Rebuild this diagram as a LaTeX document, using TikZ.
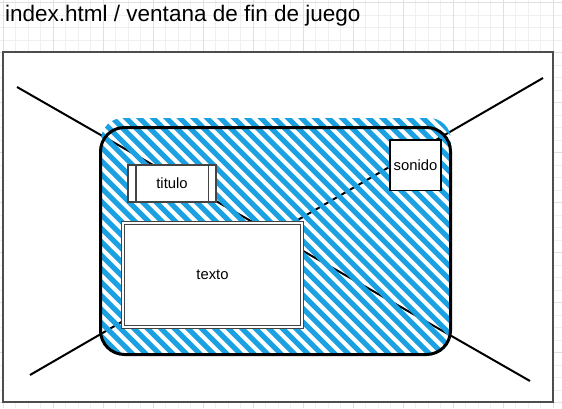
\documentclass[tikz,border=0pt]{standalone}
\usepackage{fontspec}
\setmainfont{Liberation Sans}
\definecolor{hatchblue}{HTML}{1BA1E2}
\definecolor{gridmajor}{HTML}{E0E0E0}
\definecolor{gridminor}{HTML}{F0F0F0}
\definecolor{framegray}{HTML}{4D4D4D}
\definecolor{boxgray}{HTML}{444444}
\tikzset{
  minorline/.style={draw=gridminor, line width=0.8pt},
  majorline/.style={draw=gridmajor, line width=0.8pt},
  framebox/.style={draw=framegray, fill=white, line width=1.6pt, inner sep=0pt, outer sep=0pt,
    minimum width=550pt, minimum height=350pt, anchor=north west},
  diag/.style={draw=black, line width=2pt},
  stripe/.style={draw=hatchblue, line width=5pt, line cap=round},
  screenbox/.style={draw=black, line width=3pt, rounded corners=24pt, inner sep=0pt,
    minimum width=350pt, minimum height=227pt, anchor=north west},
  lbl/.style={font=\fontsize{14.8}{17}\selectfont, text=black},
  titbox/.style={lbl, draw=boxgray, fill=white, line width=1.3pt, inner sep=0pt,
    minimum width=88pt, minimum height=37pt},
  texbox/.style={lbl, draw=boxgray, double=white, double distance=2pt, line width=1pt,
    fill=white, inner sep=0pt, minimum width=179pt, minimum height=104pt},
  sonbox/.style={lbl, draw=black, fill=white, line width=1.2pt, inner sep=0pt,
    minimum width=51pt, minimum height=50.5pt},
  titletext/.style={font=\fontsize{22.5}{26}\selectfont, text=black, inner sep=0pt, anchor=base west}
}
\begin{document}
\begin{tikzpicture}[x=1pt,y=-1pt]
\useasboundingbox (0,0) rectangle (562,408);
% background grid
\begin{scope}
\clip (0,0) rectangle (562,408);
\foreach \i in {0,...,45} \draw[minorline] ({3+12.5*\i},0) -- ({3+12.5*\i},408);
\foreach \i in {0,...,32} \draw[minorline] (0,{2.5+12.5*\i}) -- (562,{2.5+12.5*\i});
\foreach \i in {0,...,11} \draw[majorline] ({3+50*\i},0) -- ({3+50*\i},408);
\foreach \i in {0,...,8} \draw[majorline] (0,{2.5+50*\i}) -- (562,{2.5+50*\i});
\end{scope}
% title
\node[titletext] (title) at (5,21.5) {index.html / ventana de fin de juego};
% window frame
\node[framebox] (frame) at (3,52) {};
% crossing diagonals
\coordinate (d1a) at (17,87);
\coordinate (d1b) at (530,381);
\coordinate (d2a) at (543,78);
\coordinate (d2b) at (30,375);
\draw[diag] (d1a) -- (d1b);
\draw[diag] (d2a) -- (d2b);
% hatching
\begin{scope}
\clip[rounded corners=22pt] (101,118) rectangle (451,355);
\foreach \c in {-262,-248.5,...,345} \draw[stripe] ({\c+100},100) -- ({\c+370},370);
\end{scope}
% screen outline
\node[screenbox] (screen) at (99,126) {};
% boxes
\node[titbox] (titulo) at (172,183.5) {titulo};
\draw[draw=boxgray, line width=1.3pt] ([xshift=8.5pt]titulo.north west) -- ([xshift=8.5pt]titulo.south west);
\draw[draw=boxgray, line width=1.3pt] ([xshift=-8.5pt]titulo.north east) -- ([xshift=-8.5pt]titulo.south east);
\node[texbox] (texto) at (212.5,274.5) {texto};
\node[sonbox] (sonido) at (415.5,165.3) {sonido};
\end{tikzpicture}
\end{document}
